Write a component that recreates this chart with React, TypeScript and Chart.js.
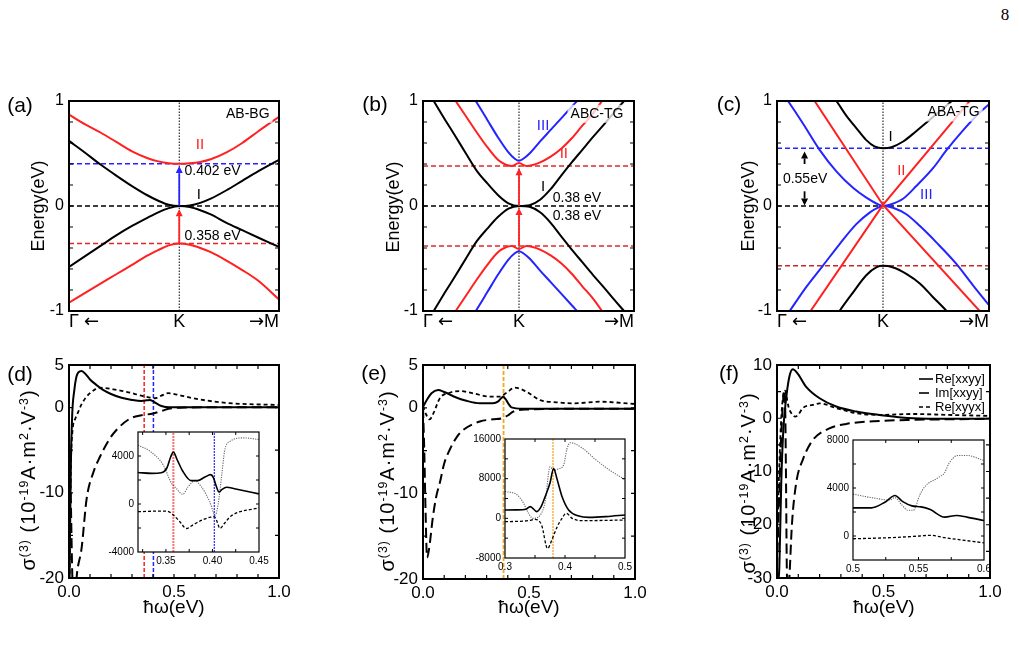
import React, { useEffect, useRef } from 'react';
import { Chart, registerables } from 'chart.js';

Chart.register(...registerables);

const FONT = '"Liberation Sans", Arial, Helvetica, sans-serif';
const ARROW_FONT = '"DejaVu Sans", "Liberation Sans", sans-serif';
const SERIF = '"Liberation Serif", "Times New Roman", serif';

const BLACK = '#000000';
const RED = '#ff2020';
const BLUE = '#2424ff';
const ORANGE = '#f4a81c';
const GREY = '#666666';

/* ---------------- (a) AB-stacked bilayer: bands along Γ ← K → M ---------------- */
const A_X_RANGE = [-1.05, 0.95];
const A_K = [-1.05, -0.9, -0.75, -0.6, -0.45, -0.3, -0.2, -0.1, 0, 0.1, 0.2, 0.3, 0.45, 0.6, 0.75, 0.95];
const A_II_CB = [0.87, 0.78, 0.7, 0.61, 0.52, 0.455, 0.425, 0.407, 0.402, 0.407, 0.42, 0.445, 0.51, 0.6, 0.71, 0.85];
const A_I_CB = [0.62, 0.51, 0.395, 0.29, 0.19, 0.1, 0.05, 0.012, 0, 0.005, 0.03, 0.07, 0.15, 0.24, 0.33, 0.44];
const A_I_VB = [-0.58, -0.48, -0.38, -0.28, -0.19, -0.11, -0.06, -0.02, 0, -0.01, -0.04, -0.08, -0.16, -0.23, -0.3, -0.39];
const A_II_VB = [-0.92, -0.83, -0.74, -0.65, -0.56, -0.47, -0.42, -0.375, -0.358, -0.37, -0.4, -0.44, -0.52, -0.61, -0.71, -0.89];
const A_GAP_UP = 0.402;
const A_GAP_DN = -0.358;

/* ---------------- (b) ABC-stacked trilayer ---------------- */
const B_X_RANGE = [-0.91, 1.09];
const B_K_I = [-0.91, -0.8, -0.7, -0.6, -0.5, -0.4, -0.3, -0.2, -0.1, 0, 0.1, 0.2, 0.3, 0.4, 0.5, 0.6, 0.7, 0.8, 0.9, 1.0, 1.09];
const B_I_CB = [1.17, 0.985, 0.82, 0.66, 0.495, 0.335, 0.215, 0.105, 0.025, 0, 0.008, 0.06, 0.16, 0.29, 0.415, 0.535, 0.655, 0.77, 0.89, 1.005, 1.11];
const B_I_VB = [-1.17, -0.985, -0.82, -0.66, -0.495, -0.335, -0.215, -0.105, -0.025, 0, -0.008, -0.06, -0.16, -0.29, -0.415, -0.535, -0.655, -0.77, -0.89, -1.005, -1.11];
const B_K_II = [-0.7, -0.6, -0.5, -0.4, -0.3, -0.2, -0.13, -0.07, 0, 0.07, 0.13, 0.2, 0.3, 0.4, 0.5, 0.6, 0.7, 0.8, 0.9];
const B_II_CB = [1.16, 1.0, 0.85, 0.7, 0.56, 0.44, 0.395, 0.38, 0.41, 0.38, 0.39, 0.415, 0.47, 0.545, 0.645, 0.765, 0.88, 1.02, 1.17];
const B_II_VB = [-1.16, -1.0, -0.85, -0.7, -0.56, -0.44, -0.395, -0.38, -0.41, -0.38, -0.39, -0.415, -0.47, -0.545, -0.645, -0.765, -0.88, -1.02, -1.17];
const B_K_III = [-0.5, -0.41, -0.3, -0.2, -0.1, -0.04, 0, 0.04, 0.1, 0.2, 0.3, 0.4, 0.5, 0.6, 0.7];
const B_III_CB = [1.14, 1.0, 0.82, 0.655, 0.51, 0.45, 0.43, 0.45, 0.5, 0.615, 0.725, 0.835, 0.945, 1.055, 1.17];
const B_III_VB = [-1.14, -1.0, -0.82, -0.655, -0.51, -0.45, -0.43, -0.45, -0.5, -0.615, -0.725, -0.835, -0.945, -1.055, -1.17];
const B_GAP = 0.38;

/* ---------------- (c) ABA-stacked trilayer ---------------- */
const C_X_RANGE = [-1.0, 1.0];
const C_K_I_CB = [-0.55, -0.44, -0.35, -0.25, -0.16, -0.08, 0, 0.08, 0.19, 0.31, 0.44, 0.57, 0.66, 0.75];
const C_I_CB = [1.13, 1.0, 0.866, 0.74, 0.63, 0.567, 0.55, 0.56, 0.614, 0.71, 0.82, 0.93, 1.01, 1.09];
const C_K_I_VB = [-0.5, -0.41, -0.28, -0.16, -0.06, 0, 0.09, 0.22, 0.35, 0.47, 0.6, 0.7];
const C_I_VB = [-1.14, -1.0, -0.82, -0.662, -0.583, -0.57, -0.583, -0.646, -0.74, -0.866, -1.0, -1.12];
const C_K_II = [-1.0, 0, 1.0];
const C_II_A = [1.545, 0.01, -1.097];
const C_II_B = [-1.469, 0.01, 1.22];
const C_K_III_CB = [-1.0, -0.896, -0.755, -0.598, -0.44, -0.283, -0.157, -0.063, 0, 0.079, 0.189, 0.314, 0.472, 0.597, 0.755, 0.912, 1.0];
const C_III_CB = [1.15, 1.0, 0.786, 0.535, 0.33, 0.173, 0.079, 0.024, 0, 0.017, 0.069, 0.19, 0.36, 0.529, 0.72, 0.89, 0.97];
const C_K_III_VB = [-1.0, -0.88, -0.723, -0.566, -0.409, -0.252, -0.126, -0.047, 0, 0.094, 0.22, 0.346, 0.503, 0.692, 0.849, 1.0];
const C_III_VB = [-1.18, -1.0, -0.77, -0.567, -0.362, -0.173, -0.063, -0.016, 0, -0.016, -0.079, -0.189, -0.346, -0.551, -0.756, -0.945];
const C_GAP_UP = 0.55;
const C_GAP_DN = -0.57;

const BAND_Y_LABELS = [-1, 0, 1];
const BAND_Y_TICKS = [-0.8, -0.6, -0.4, -0.2, 0, 0.2, 0.4, 0.6, 0.8];

/* ---------------- (d) σ(3) of AB bilayer ---------------- */
const D_RE_XXYY_X = [0.002, 0.008, 0.015, 0.025, 0.035, 0.045, 0.06, 0.08, 0.1, 0.13, 0.16, 0.2, 0.25, 0.3, 0.345, 0.37, 0.385, 0.4, 0.41, 0.44, 0.48, 0.6, 0.8, 1.0];
const D_RE_XXYY = [-22, -8, -1, 2.0, 3.6, 4.15, 4.3, 3.9, 3.3, 2.67, 2.1, 1.6, 1.15, 0.9, 0.78, 0.85, 0.9, 0.75, 0.59, 0.19, 0.04, 0.05, 0.05, 0.05];
const D_IM_XXYY_X = [0.0, 0.008, 0.016, 0.026, 0.036, 0.06, 0.084, 0.116, 0.147, 0.19, 0.227, 0.29, 0.345, 0.4, 0.44, 0.48, 0.55, 0.7, 1.0];
const D_IM_XXYY = [-3, -10, -20, -24, -20, -16.5, -10.7, -7.6, -5.8, -3.8, -2.6, -1.3, -0.9, -0.7, -0.4, -0.1, 0.0, 0.05, 0.05];
const D_RE_XYYX_X = [0.002, 0.008, 0.017, 0.03, 0.044, 0.06, 0.084, 0.116, 0.14, 0.17, 0.22, 0.274, 0.345, 0.38, 0.409, 0.44, 0.472, 0.52, 0.59, 0.75, 1.0];
const D_RE_XYYX = [-22, -8, -2.65, -1.3, -0.5, 0.4, 1.3, 2.0, 2.35, 2.3, 2.1, 1.85, 1.4, 1.2, 1.1, 1.4, 1.7, 1.5, 1.1, 0.55, 0.3];
const D_MARKS = [0.358, 0.402];

const DI_RE_XXYY_X = [0.32, 0.335, 0.345, 0.351, 0.355, 0.358, 0.362, 0.368, 0.377, 0.384, 0.392, 0.398, 0.401, 0.404, 0.407, 0.41, 0.415, 0.425, 0.45];
const DI_RE_XXYY = [2620, 2550, 2600, 3000, 3900, 4320, 3700, 2750, 1950, 1950, 2250, 2450, 2200, 1500, 1000, 1200, 1400, 1250, 840];
const DI_RE_XYYX_X = [0.32, 0.345, 0.352, 0.358, 0.365, 0.372, 0.38, 0.39, 0.398, 0.402, 0.405, 0.408, 0.413, 0.42, 0.45];
const DI_RE_XYYX = [-640, -590, -620, -920, -1480, -2040, -1700, -1300, -1100, -1060, -1480, -2040, -1600, -1000, -310];
const DI_IM_XXYY_X = [0.32, 0.333, 0.347, 0.356, 0.361, 0.368, 0.374, 0.381, 0.388, 0.397, 0.403, 0.406, 0.41, 0.413, 0.419, 0.433, 0.45];
const DI_IM_XXYY = [4900, 4390, 3270, 1730, 1310, 810, 1450, 1930, 1450, 200, -920, -80, 2430, 4390, 5230, 5510, 5370];

/* ---------------- (e) σ(3) of ABC trilayer ---------------- */
const E_RE_XXYY_X = [0, 0.02, 0.04, 0.071, 0.1, 0.157, 0.2, 0.268, 0.33, 0.355, 0.368, 0.378, 0.39, 0.405, 0.417, 0.47, 0.6, 0.8, 1.0];
const E_RE_XXYY = [0.1, 1.0, 1.7, 2.08, 1.85, 1.2, 0.85, 0.52, 0.52, 0.75, 1.1, 1.3, 1.0, 0.4, 0.05, -0.1, -0.1, -0.1, -0.1];
const E_IM_XXYY_X = [0, 0.006, 0.012, 0.019, 0.028, 0.047, 0.063, 0.079, 0.1, 0.126, 0.16, 0.189, 0.268, 0.33, 0.37, 0.4, 0.425, 0.488, 0.7, 1.0];
const E_IM_XXYY = [0, -5, -12, -17.5, -16.6, -12.7, -10.3, -8.8, -6.5, -4.9, -3.4, -2.6, -1.6, -1.35, -1.23, -0.9, -0.45, -0.2, -0.12, -0.1];
const E_RE_XYYX_X = [0, 0.015, 0.031, 0.05, 0.079, 0.126, 0.173, 0.236, 0.315, 0.362, 0.394, 0.433, 0.488, 0.551, 0.63, 0.71, 0.835, 1.0];
const E_RE_XYYX = [0.2, -0.8, -1.35, -0.6, 1.1, 1.76, 1.96, 1.69, 1.3, 1.3, 1.76, 2.35, 1.88, 0.91, 0.64, 0.52, 0.71, 0.44];
const E_MARK = 0.38;

const EI_RE_XXYY_X = [0.3, 0.32, 0.335, 0.342, 0.353, 0.36, 0.367, 0.375, 0.381, 0.387, 0.395, 0.406, 0.423, 0.44, 0.468, 0.5];
const EI_RE_XXYY = [1690, 1700, 1850, 2370, 1360, 2300, 4400, 7120, 10030, 7800, 4400, 1690, 470, 200, 340, 680];
const EI_RE_XYYX_X = [0.3, 0.339, 0.35, 0.361, 0.371, 0.378, 0.387, 0.395, 0.402, 0.412, 0.428, 0.5];
const EI_RE_XYYX = [-680, -470, -200, -1360, -6100, -4400, -1690, 0, 1020, 0, -470, -340];
const EI_IM_XXYY_X = [0.3, 0.32, 0.331, 0.339, 0.347, 0.359, 0.367, 0.375, 0.381, 0.389, 0.398, 0.403, 0.409, 0.428, 0.451, 0.473, 0.5];
const EI_IM_XXYY = [5420, 4750, 3050, 1020, 0, 680, 3390, 10370, 9700, 9970, 10850, 13900, 15250, 14240, 11860, 9830, 7800];

/* ---------------- (f) σ(3) of ABA trilayer ---------------- */
const F_RE_XXYY_X = [0.004, 0.011, 0.02, 0.03, 0.042, 0.058, 0.074, 0.097, 0.137, 0.2, 0.278, 0.372, 0.482, 0.64, 0.8, 1.0];
const F_RE_XXYY = [-31, -28, -12, -2, 3.4, 7.8, 9.2, 8.4, 5.9, 3.75, 2.2, 1.25, 0.63, 0.0, -0.1, -0.1];
const F_IM_XXYY_X = [0, 0.01, 0.02, 0.028, 0.034, 0.038, 0.042, 0.046, 0.052, 0.058, 0.07, 0.09, 0.121, 0.168, 0.246, 0.325, 0.482, 0.64, 1.0];
const F_IM_XXYY = [-28, -15, -3, 3, 5.2, 3, -10, -28, -33, -30, -20, -12.2, -7.8, -4.1, -1.9, -1.06, -0.5, -0.3, -0.1];
const F_RE_XYYX_X = [0, 0.01, 0.02, 0.03, 0.038, 0.045, 0.055, 0.07, 0.085, 0.1, 0.121, 0.168, 0.2, 0.278, 0.372, 0.482, 0.64, 0.8, 1.0];
const F_RE_XYYX = [-25, -10, 0, 4.5, 5.2, 4.0, 2.0, 0.8, 0.3, 0.7, 1.9, 2.5, 2.8, 1.9, 0.94, 0.63, 0.8, 0.63, 0.44];

const FI_RE_XXYY_X = [0.5, 0.514, 0.525, 0.532, 0.538, 0.545, 0.552, 0.559, 0.57, 0.579, 0.587, 0.6];
const FI_RE_XXYY = [2340, 2340, 2860, 3370, 2860, 2510, 2430, 2200, 1570, 1710, 1570, 1290];
const FI_IM_XXYY_X = [0.5, 0.514, 0.528, 0.532, 0.537, 0.542, 0.546, 0.551, 0.555, 0.565, 0.57, 0.573, 0.58, 0.587, 0.6];
const FI_IM_XXYY = [3490, 3200, 3000, 3200, 2630, 2140, 2140, 3430, 4140, 4860, 5290, 6000, 6710, 6710, 6290];
const FI_RE_XYYX_X = [0.5, 0.528, 0.551, 0.559, 0.57, 0.6];
const FI_RE_XYYX = [-230, -140, 0, 60, -140, -570];

const LEGEND = ['Re[xxyy]', 'Im[xxyy]', 'Re[xyyx]'];

const W_X_LABELS = [0, 0.5, 1];
const W_X_TICKS = [0.1, 0.2, 0.3, 0.4, 0.5, 0.6, 0.7, 0.8, 0.9];
const D_Y_LABELS = [5, 0, -10, -20];
const D_Y_TICKS = [-15, -10, -5, 0];
const F_Y_LABELS = [10, 0, -10, -20, -30];
const F_Y_TICKS = [-25, -20, -15, -10, -5, 0, 5];

/* ---------------- dataset helpers ---------------- */
const pts = (xs: number[], ys: number[]) => xs.map((x, i) => ({ x, y: ys[i] }));

const curve = (xs: number[], ys: number[], color: string, width = 2, dash: number[] = []) => ({
  data: pts(xs, ys),
  borderColor: color,
  borderWidth: width,
  borderDash: dash,
  pointRadius: 0,
  fill: false,
  cubicInterpolationMode: 'monotone',
  capBezierPoints: false,
});

const straight = (xs: number[], ys: number[], color: string, width = 2, dash: number[] = []) => ({
  data: pts(xs, ys),
  borderColor: color,
  borderWidth: width,
  borderDash: dash,
  pointRadius: 0,
  fill: false,
  tension: 0,
});

const hline = (v: number, range: number[], color: string) => straight(range, [v, v], color, 1.5, [5, 3]);
const vline = (v: number, lo: number, hi: number, color: string, width: number, dash: number[]) =>
  straight([v, v], [lo, hi], color, width, dash);

/* ---------------- drawing plugin: frame, inward ticks, labels, arrows, legend ---------------- */
function decor(cfg: any) {
  return {
    id: 'decor',
    beforeDatasetsDraw(chart: any) {
      if (!cfg.fill) return;
      const { ctx, chartArea: a } = chart;
      ctx.save();
      ctx.fillStyle = cfg.fill;
      ctx.fillRect(a.left, a.top, a.right - a.left, a.bottom - a.top);
      ctx.restore();
    },
    afterDatasetsDraw(chart: any) {
      const { ctx, chartArea: a } = chart;
      const sx = chart.scales.x;
      const sy = chart.scales.y;
      ctx.save();

      for (const ar of cfg.arrows || []) {
        const px = sx.getPixelForValue(ar.x);
        const p0 = sy.getPixelForValue(ar.from);
        const p1 = sy.getPixelForValue(ar.to);
        const dir = Math.sign(p1 - p0);
        const hl = 7;
        const hw = 3.5;
        ctx.strokeStyle = ar.color;
        ctx.fillStyle = ar.color;
        ctx.lineWidth = 1.8;
        ctx.beginPath();
        ctx.moveTo(px, p0);
        ctx.lineTo(px, p1 - dir * hl);
        ctx.stroke();
        ctx.beginPath();
        ctx.moveTo(px, p1);
        ctx.lineTo(px - hw, p1 - dir * hl);
        ctx.lineTo(px + hw, p1 - dir * hl);
        ctx.closePath();
        ctx.fill();
      }

      for (const t of cfg.texts || []) {
        ctx.font = `${t.size || 14}px ${FONT}`;
        ctx.textAlign = t.align || 'center';
        ctx.textBaseline = 'middle';
        const px = sx.getPixelForValue(t.x);
        const py = sy.getPixelForValue(t.y);
        if (t.bg) {
          const w = ctx.measureText(t.text).width;
          const x0 = t.align === 'right' ? px - w : t.align === 'left' ? px : px - w / 2;
          ctx.fillStyle = t.bg;
          ctx.fillRect(x0 - 3, py - 9, w + 6, 18);
        }
        ctx.fillStyle = t.color || BLACK;
        ctx.fillText(t.text, px, py);
      }

      ctx.strokeStyle = BLACK;
      ctx.lineWidth = cfg.frame;
      ctx.strokeRect(a.left, a.top, a.right - a.left, a.bottom - a.top);

      const L = cfg.tickLen || 4;
      ctx.lineWidth = cfg.tickWidth || 1.2;
      ctx.beginPath();
      for (const v of cfg.xTicks || []) {
        const p = sx.getPixelForValue(v);
        ctx.moveTo(p, a.bottom);
        ctx.lineTo(p, a.bottom - L);
        ctx.moveTo(p, a.top);
        ctx.lineTo(p, a.top + L);
      }
      for (const v of cfg.yTicks || []) {
        const p = sy.getPixelForValue(v);
        ctx.moveTo(a.left, p);
        ctx.lineTo(a.left + L, p);
        ctx.moveTo(a.right, p);
        ctx.lineTo(a.right - L, p);
      }
      ctx.stroke();

      // captions under the frame, written as runs so the arrows can use a wider glyph
      for (const c of cfg.captions || []) {
        ctx.textAlign = 'left';
        ctx.textBaseline = 'middle';
        ctx.fillStyle = BLACK;
        const widths = c.runs.map((r: any) => {
          ctx.font = `${c.size}px ${r.f}`;
          return ctx.measureText(r.t).width;
        });
        const total = widths.reduce((s: number, w: number) => s + w, 0);
        const anchor = sx.getPixelForValue(c.x);
        let x = c.align === 'left' ? anchor : c.align === 'right' ? anchor - total : anchor - total / 2;
        c.runs.forEach((r: any, i: number) => {
          ctx.font = `${c.size}px ${r.f}`;
          ctx.fillText(r.t, x, a.bottom + c.dy);
          x += widths[i];
        });
      }

      if (cfg.legend) {
        const lg = cfg.legend;
        ctx.font = `${lg.size}px ${FONT}`;
        ctx.textAlign = 'left';
        ctx.textBaseline = 'middle';
        lg.items.forEach((label: string, i: number) => {
          const ds = chart.data.datasets[i];
          const y = a.top + lg.top + i * lg.row;
          ctx.strokeStyle = ds.borderColor;
          ctx.lineWidth = 1.6;
          ctx.setLineDash(ds.borderDash || []);
          ctx.beginPath();
          ctx.moveTo(a.left + lg.x0, y);
          ctx.lineTo(a.left + lg.x1, y);
          ctx.stroke();
          ctx.setLineDash([]);
          ctx.fillStyle = BLACK;
          ctx.fillText(label, a.left + lg.x1 + 2, y);
        });
      }
      ctx.restore();
    },
  };
}

/* ---------------- chart configuration ---------------- */
type Pad = { l: number; t: number; r: number; b: number };
type Box = { l: number; t: number; r: number; b: number };

const zeroPad = (s: any) => {
  s.paddingLeft = 0;
  s.paddingRight = 0;
  s.paddingTop = 0;
  s.paddingBottom = 0;
};

function axis(min: number, max: number, labels: number[], size: number, padding: number, fmt: (v: number) => string) {
  return {
    type: 'linear',
    min,
    max,
    grid: { display: false, drawTicks: false },
    border: { display: false },
    afterBuildTicks: (s: any) => {
      s.ticks = labels.map((value) => ({ value }));
    },
    ticks: {
      display: labels.length > 0,
      autoSkip: false,
      maxRotation: 0,
      minRotation: 0,
      padding,
      color: BLACK,
      font: { family: FONT, size },
      callback: (v: any) => fmt(Number(v)),
    },
  };
}

function lineConfig(datasets: any[], xAxis: any, yAxis: any, pad: Pad, plugin: any) {
  return {
    type: 'line',
    data: { datasets },
    options: {
      responsive: false,
      maintainAspectRatio: false,
      animation: false,
      devicePixelRatio: 1,
      events: [],
      layout: { padding: { left: 0, top: pad.t, right: pad.r, bottom: 0 } },
      plugins: { legend: { display: false }, tooltip: { enabled: false }, title: { display: false } },
      scales: {
        x: {
          ...xAxis,
          position: 'bottom',
          afterFit: (s: any) => {
            s.height = pad.b;
            zeroPad(s);
          },
        },
        y: {
          ...yAxis,
          position: 'left',
          afterFit: (s: any) => {
            s.width = pad.l;
            zeroPad(s);
          },
        },
      },
    },
    plugins: [plugin],
  };
}

const BAND_PAD: Pad = { l: 48, t: 12, r: 16, b: 26 };
const COND_PAD: Pad = { l: 48, t: 12, r: 22, b: 26 };
const INSET_PAD: Pad = { l: 34, t: 8, r: 14, b: 18 };

const bandCaptions = (range: number[]) => [
  { x: range[0], runs: [{ t: 'Γ ', f: FONT }, { t: '←', f: ARROW_FONT }], align: 'left', dy: 11, size: 18 },
  { x: 0, runs: [{ t: 'K', f: FONT }], align: 'center', dy: 11, size: 18 },
  { x: range[1], runs: [{ t: '→', f: ARROW_FONT }, { t: 'M', f: FONT }], align: 'right', dy: 11, size: 18 },
];

function bandChart(datasets: any[], range: number[], extra: any) {
  return lineConfig(
    datasets,
    axis(range[0], range[1], [], 16, 0, String),
    axis(-1, 1, BAND_Y_LABELS, 16, 5, (v) => String(v)),
    BAND_PAD,
    decor({ frame: 2, tickLen: 4, yTicks: BAND_Y_TICKS, captions: bandCaptions(range), ...extra })
  );
}

const makeA = () =>
  bandChart(
    [
      curve(A_K, A_II_CB, RED),
      curve(A_K, A_I_CB, BLACK),
      curve(A_K, A_I_VB, BLACK),
      curve(A_K, A_II_VB, RED),
      hline(A_GAP_UP, A_X_RANGE, BLUE),
      hline(0, A_X_RANGE, BLACK),
      hline(A_GAP_DN, A_X_RANGE, '#e02828'),
      vline(0, -1, 1, BLACK, 1, [1.5, 1.5]),
    ],
    A_X_RANGE,
    {
      arrows: [
        { x: 0, from: 0, to: 0.38, color: BLUE },
        { x: 0, from: A_GAP_DN, to: -0.03, color: RED },
      ],
      texts: [
        { x: 0.197, y: 0.578, text: 'II', color: RED, size: 15 },
        { x: 0.187, y: 0.104, text: 'I', size: 15 },
        { x: 0.05, y: 0.335, text: '0.402 eV', align: 'left' },
        { x: 0.05, y: -0.29, text: '0.358 eV', align: 'left' },
        { x: 0.86, y: 0.878, text: 'AB-BG', align: 'right', bg: 'rgba(255,255,255,0.75)' },
      ],
    }
  );

const makeB = () =>
  bandChart(
    [
      curve(B_K_III, B_III_CB, BLUE),
      curve(B_K_II, B_II_CB, RED),
      curve(B_K_I, B_I_CB, BLACK),
      curve(B_K_I, B_I_VB, BLACK),
      curve(B_K_II, B_II_VB, RED),
      curve(B_K_III, B_III_VB, BLUE),
      hline(B_GAP, B_X_RANGE, '#e02828'),
      hline(0, B_X_RANGE, BLACK),
      hline(-B_GAP, B_X_RANGE, '#e02828'),
      vline(0, -1, 1, BLACK, 1, [1.5, 1.5]),
    ],
    B_X_RANGE,
    {
      arrows: [
        { x: 0, from: -B_GAP, to: -0.02, color: RED },
        { x: 0, from: 0, to: 0.36, color: RED },
      ],
      texts: [
        { x: 0.228, y: 0.768, text: 'III', color: BLUE, size: 15 },
        { x: 0.425, y: 0.5, text: 'II', color: RED, size: 15 },
        { x: 0.228, y: 0.183, text: 'I', size: 15 },
        { x: 0.32, y: 0.073, text: '0.38 eV', align: 'left' },
        { x: 0.32, y: -0.1, text: '0.38 eV', align: 'left' },
        { x: 0.99, y: 0.878, text: 'ABC-TG', align: 'right', bg: 'rgba(255,255,255,0.75)' },
      ],
    }
  );

const makeC = () =>
  bandChart(
    [
      curve(C_K_I_CB, C_I_CB, BLACK),
      curve(C_K_I_VB, C_I_VB, BLACK),
      straight(C_K_II, C_II_A, RED),
      straight(C_K_II, C_II_B, RED),
      curve(C_K_III_CB, C_III_CB, BLUE),
      curve(C_K_III_VB, C_III_VB, BLUE),
      hline(C_GAP_UP, C_X_RANGE, BLUE),
      hline(0, C_X_RANGE, BLACK),
      hline(C_GAP_DN, C_X_RANGE, '#c82828'),
      vline(0, -1, 1, BLACK, 1, [1.5, 1.5]),
    ],
    C_X_RANGE,
    {
      arrows: [
        { x: -0.74, from: 0.4, to: 0.52, color: BLACK },
        { x: -0.74, from: 0.14, to: 0.005, color: BLACK },
      ],
      texts: [
        { x: 0.072, y: 0.655, text: 'I', size: 15 },
        { x: 0.173, y: 0.339, text: 'II', color: RED, size: 15 },
        { x: 0.409, y: 0.11, text: 'III', color: BLUE, size: 15 },
        { x: -0.735, y: 0.258, text: '0.55eV' },
        { x: 0.912, y: 0.89, text: 'ABA-TG', align: 'right', bg: 'rgba(255,255,255,0.75)' },
      ],
    }
  );

function condChart(datasets: any[], yMin: number, yMax: number, yLabels: number[], yTicks: number[], extra: any = {}) {
  return lineConfig(
    datasets,
    axis(0, 1, W_X_LABELS, 17, 4, (v) => v.toFixed(1)),
    axis(yMin, yMax, yLabels, 17, 5, (v) => String(v)),
    COND_PAD,
    decor({ frame: 2, tickLen: 4, xTicks: W_X_TICKS, yTicks, ...extra })
  );
}

const SOLID = (xs: number[], ys: number[]) => curve(xs, ys, BLACK, 2);
const LONG = (xs: number[], ys: number[]) => curve(xs, ys, BLACK, 2, [10, 5]);
const SHORT = (xs: number[], ys: number[]) => curve(xs, ys, BLACK, 1.8, [4, 3]);

const makeD = () =>
  condChart(
    [
      SOLID(D_RE_XXYY_X, D_RE_XXYY),
      LONG(D_IM_XXYY_X, D_IM_XXYY),
      SHORT(D_RE_XYYX_X, D_RE_XYYX),
      vline(D_MARKS[0], -20, 5, RED, 1.5, [4, 2]),
      vline(D_MARKS[1], -20, 5, BLUE, 1.5, [4, 2]),
    ],
    -20,
    5,
    D_Y_LABELS,
    D_Y_TICKS
  );

const makeE = () =>
  condChart(
    [
      SOLID(E_RE_XXYY_X, E_RE_XXYY),
      LONG(E_IM_XXYY_X, E_IM_XXYY),
      SHORT(E_RE_XYYX_X, E_RE_XYYX),
      vline(E_MARK, -20, 5, ORANGE, 1.8, [4, 2]),
    ],
    -20,
    5,
    D_Y_LABELS,
    D_Y_TICKS
  );

const makeF = () =>
  condChart(
    [SOLID(F_RE_XXYY_X, F_RE_XXYY), LONG(F_IM_XXYY_X, F_IM_XXYY), SHORT(F_RE_XYYX_X, F_RE_XYYX)],
    -30,
    10,
    F_Y_LABELS,
    F_Y_TICKS,
    { legend: { items: LEGEND, x0: 142, x1: 156, top: 14, row: 14, size: 13 } }
  );

function insetChart(datasets: any[], xr: number[], xl: number[], xf: (v: number) => string, yr: number[], yl: number[], xt: number[], yt: number[]) {
  return lineConfig(
    datasets,
    axis(xr[0], xr[1], xl, 10, 3, xf),
    axis(yr[0], yr[1], yl, 10, 4, (v) => String(v)),
    INSET_PAD,
    decor({ frame: 1.2, tickLen: 3, tickWidth: 1, fill: '#ffffff', xTicks: xt, yTicks: yt })
  );
}

const I_SOLID = (xs: number[], ys: number[]) => curve(xs, ys, BLACK, 1.6);
const I_SHORT = (xs: number[], ys: number[]) => curve(xs, ys, BLACK, 1.3, [3, 2]);
const I_DOT = (xs: number[], ys: number[]) => curve(xs, ys, GREY, 1.1, [1.2, 1.2]);

const makeDI = () =>
  insetChart(
    [
      I_SOLID(DI_RE_XXYY_X, DI_RE_XXYY),
      I_SHORT(DI_RE_XYYX_X, DI_RE_XYYX),
      I_DOT(DI_IM_XXYY_X, DI_IM_XXYY),
      vline(D_MARKS[0], -4000, 6000, '#ff7070', 2, [2, 1]),
      vline(D_MARKS[1], -4000, 6000, '#3a3aff', 1.3, [2, 1]),
    ],
    [0.32, 0.45],
    [0.35, 0.4, 0.45],
    (v) => v.toFixed(2),
    [-4000, 6000],
    [4000, 0, -4000],
    [0.325, 0.35, 0.375, 0.4, 0.425],
    [-2000, 0, 2000, 4000]
  );

const makeEI = () =>
  insetChart(
    [
      I_SOLID(EI_RE_XXYY_X, EI_RE_XXYY),
      I_SHORT(EI_RE_XYYX_X, EI_RE_XYYX),
      I_DOT(EI_IM_XXYY_X, EI_IM_XXYY),
      vline(E_MARK, -8000, 16000, '#f7b440', 1.5, [2, 1]),
    ],
    [0.3, 0.5],
    [0.3, 0.4, 0.5],
    (v) => v.toFixed(1),
    [-8000, 16000],
    [16000, 8000, 0, -8000],
    [0.35, 0.4, 0.45],
    [-4000, 0, 4000, 8000, 12000]
  );

const makeFI = () =>
  insetChart(
    [I_SOLID(FI_RE_XXYY_X, FI_RE_XXYY), I_SHORT(FI_RE_XYYX_X, FI_RE_XYYX), I_DOT(FI_IM_XXYY_X, FI_IM_XXYY)],
    [0.5, 0.6],
    [0.5, 0.55, 0.6],
    (v) => String(v),
    [-2000, 8000],
    [8000, 4000, 0],
    [0.525, 0.55, 0.575],
    [0, 2000, 4000, 6000]
  );

/* ---------------- layout ---------------- */
const PANELS: { id: string; box: Box; pad: Pad; make: () => any }[] = [
  { id: 'a', box: { l: 69, t: 101, r: 279, b: 311 }, pad: BAND_PAD, make: makeA },
  { id: 'b', box: { l: 423, t: 101, r: 634, b: 311 }, pad: BAND_PAD, make: makeB },
  { id: 'c', box: { l: 777, t: 101, r: 989, b: 311 }, pad: BAND_PAD, make: makeC },
  { id: 'd', box: { l: 69, t: 365, r: 279, b: 578 }, pad: COND_PAD, make: makeD },
  { id: 'e', box: { l: 423, t: 365, r: 635, b: 579 }, pad: COND_PAD, make: makeE },
  { id: 'f', box: { l: 777, t: 365, r: 990, b: 578 }, pad: COND_PAD, make: makeF },
  { id: 'di', box: { l: 138, t: 432, r: 259, b: 552 }, pad: INSET_PAD, make: makeDI },
  { id: 'ei', box: { l: 505, t: 439, r: 625, b: 558 }, pad: INSET_PAD, make: makeEI },
  { id: 'fi', box: { l: 853, t: 440, r: 984, b: 560 }, pad: INSET_PAD, make: makeFI },
];

function ChartBox({ box, pad, make }: { box: Box; pad: Pad; make: () => any }) {
  const ref = useRef<HTMLCanvasElement>(null);
  useEffect(() => {
    const chart = new Chart(ref.current as HTMLCanvasElement, make());
    return () => chart.destroy();
  }, []);
  const w = box.r - box.l + pad.l + pad.r;
  const h = box.b - box.t + pad.t + pad.b;
  return (
    <canvas
      ref={ref}
      width={w}
      height={h}
      style={{ position: 'absolute', left: box.l - pad.l, top: box.t - pad.t, width: w, height: h }}
    />
  );
}

function Txt({ x, y, size, rot = false, family = FONT, spacing = 0, children }: any) {
  return (
    <div
      style={{
        position: 'absolute',
        left: x,
        top: y,
        fontFamily: family,
        fontSize: size,
        lineHeight: 1,
        letterSpacing: spacing,
        color: BLACK,
        whiteSpace: 'nowrap',
        transform: `translate(-50%, -50%)${rot ? ' rotate(-90deg)' : ''}`,
      }}
    >
      {children}
    </div>
  );
}

const SUP: React.CSSProperties = { fontSize: '0.62em', verticalAlign: '0.6em', lineHeight: 0 };

function SigmaTitle({ x, y }: { x: number; y: number }) {
  return (
    <Txt x={x} y={y} size={20} spacing={1} rot>
      σ<sup style={SUP}>(3)</sup> (10<sup style={SUP}>-19</sup>A·m<sup style={SUP}>2</sup>·V<sup style={SUP}>-3</sup>)
    </Txt>
  );
}

export default function App() {
  return (
    <div style={{ position: 'fixed', left: 0, top: 0, width: 1019, height: 656, background: '#ffffff', overflow: 'hidden' }}>
      <Txt x={1005} y={14} size={17} family={SERIF}>8</Txt>

      {PANELS.map((p) => (
        <ChartBox key={p.id} box={p.box} pad={p.pad} make={p.make} />
      ))}

      <Txt x={20} y={104} size={21}>(a)</Txt>
      <Txt x={375} y={103} size={21}>(b)</Txt>
      <Txt x={729} y={103} size={21}>(c)</Txt>
      <Txt x={20} y={373} size={21}>(d)</Txt>
      <Txt x={374} y={372} size={21}>(e)</Txt>
      <Txt x={729} y={372} size={21}>(f)</Txt>

      <Txt x={38} y={206} size={18} rot>Energy(eV)</Txt>
      <Txt x={393} y={207} size={18} rot>Energy(eV)</Txt>
      <Txt x={748} y={206} size={18} rot>Energy(eV)</Txt>

      <SigmaTitle x={28} y={480} />
      <SigmaTitle x={387} y={481} />
      <SigmaTitle x={748} y={483} />

      <Txt x={174} y={606} size={19}>ħω(eV)</Txt>
      <Txt x={529} y={606} size={19}>ħω(eV)</Txt>
      <Txt x={884} y={606} size={19}>ħω(eV)</Txt>
    </div>
  );
}
